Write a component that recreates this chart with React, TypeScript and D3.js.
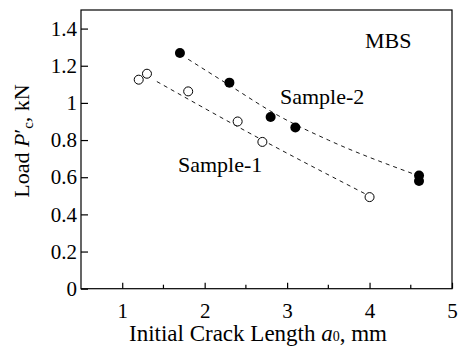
import { useEffect, useRef } from "react"
import * as d3 from "d3"

// crack length (mm) vs load (kN)
const sample1X = [1.2, 1.3, 1.8, 2.4, 2.7, 4.0]
const sample1Y = [1.125, 1.157, 1.062, 0.9, 0.79, 0.493]
const sample2X = [1.7, 2.3, 2.8, 3.1, 4.6, 4.6]
const sample2Y = [1.269, 1.109, 0.924, 0.868, 0.609, 0.58]

// dashed trend lines
const fit1X = [1.42, 2.7, 3.95]
const fit1Y = [1.115, 0.8, 0.51]
const fit2X = [1.8, 2.3, 2.9, 3.5, 4.55]
const fit2Y = [1.235, 1.095, 0.93, 0.8, 0.615]

const xTicks = [1, 2, 3, 4, 5]
const xMinorTicks = [1.5, 2.5, 3.5, 4.5]
const yTicks = [0, 0.2, 0.4, 0.6, 0.8, 1, 1.2, 1.4]

const W = 461
const H = 346

export default function App() {
  const svgRef = useRef<SVGSVGElement>(null)

  useEffect(() => {
    if (!svgRef.current) return
    const svg = d3.select(svgRef.current)
    svg.selectAll("*").remove()

    const left = 81
    const right = 452
    const top = 10
    const bottom = 288.7

    const x = d3.scaleLinear().domain([0.5, 5]).range([left, right])
    const y = d3.scaleLinear().domain([0, 1.5]).range([bottom, top])

    const font = '"Liberation Serif", Tinos, "Times New Roman", Times, serif'

    // frame
    svg
      .append("rect")
      .attr("x", left)
      .attr("y", top)
      .attr("width", right - left)
      .attr("height", bottom - top)
      .attr("fill", "none")
      .attr("stroke", "#000")
      .attr("stroke-width", 1.2)

    // x axis, inward ticks
    const xAxis = svg
      .append("g")
      .attr("transform", `translate(0,${bottom})`)
      .call(
        d3
          .axisBottom(x)
          .tickValues(xTicks)
          .tickSizeInner(-6)
          .tickSizeOuter(0)
          .tickPadding(14)
          .tickFormat(d3.format("d"))
      )
    xAxis.attr("font-family", null)
    xAxis.select(".domain").remove()
    xAxis.selectAll("line").attr("stroke-width", 1.2)
    xAxis
      .selectAll("text")
      .style("font-family", font)
      .style("font-size", "21px")
      .attr("fill", "#000")

    svg
      .append("g")
      .selectAll("line")
      .data(xMinorTicks)
      .enter()
      .append("line")
      .attr("x1", (d) => x(d))
      .attr("x2", (d) => x(d))
      .attr("y1", bottom)
      .attr("y2", bottom - 4)
      .attr("stroke", "#000")
      .attr("stroke-width", 1.2)

    // y axis, inward ticks
    const yAxis = svg
      .append("g")
      .attr("transform", `translate(${left},0)`)
      .call(
        d3
          .axisLeft(y)
          .tickValues(yTicks)
          .tickSizeInner(-7)
          .tickSizeOuter(0)
          .tickPadding(4)
          .tickFormat((d) => String(d))
      )
    yAxis.attr("font-family", null)
    yAxis.select(".domain").remove()
    yAxis.selectAll("line").attr("stroke-width", 1.2)
    yAxis
      .selectAll("text")
      .style("font-family", font)
      .style("font-size", "21px")
      .attr("fill", "#000")

    // trend lines
    const line = d3
      .line<number>()
      .x((d) => x(d))
      .curve(d3.curveMonotoneX)

    svg
      .append("path")
      .attr("d", line.y((_, i) => y(fit1Y[i]))(fit1X))
      .attr("fill", "none")
      .attr("stroke", "#000")
      .attr("stroke-width", 0.9)
      .attr("stroke-dasharray", "4,4")

    svg
      .append("path")
      .attr("d", line.y((_, i) => y(fit2Y[i]))(fit2X))
      .attr("fill", "none")
      .attr("stroke", "#000")
      .attr("stroke-width", 0.9)
      .attr("stroke-dasharray", "4,4")

    // points
    svg
      .append("g")
      .selectAll("circle")
      .data(sample1X)
      .enter()
      .append("circle")
      .attr("cx", (d) => x(d))
      .attr("cy", (_, i) => y(sample1Y[i]))
      .attr("r", 4.5)
      .attr("fill", "#fff")
      .attr("stroke", "#000")
      .attr("stroke-width", 1)

    svg
      .append("g")
      .selectAll("circle")
      .data(sample2X)
      .enter()
      .append("circle")
      .attr("cx", (d) => x(d))
      .attr("cy", (_, i) => y(sample2Y[i]))
      .attr("r", 5)
      .attr("fill", "#000")

    // annotations
    const label = (tx: number, ty: number, s: string) =>
      svg
        .append("text")
        .attr("x", tx)
        .attr("y", ty)
        .style("font-family", font)
        .style("font-size", "22px")
        .attr("fill", "#000")
        .text(s)

    label(365, 48, "MBS")
    label(280, 104, "Sample-2")
    label(178, 172, "Sample-1")

    // axis titles
    const xt = svg
      .append("text")
      .attr("x", 258)
      .attr("y", 341)
      .attr("text-anchor", "middle")
      .style("font-family", font)
      .style("font-size", "23px")
      .attr("fill", "#000")
    xt.append("tspan").text("Initial Crack Length ")
    xt.append("tspan").style("font-style", "italic").text("a")
    xt.append("tspan").style("font-size", "14px").text("0")
    xt.append("tspan").text(", mm")

    const yt = svg
      .append("text")
      .attr("transform", `translate(29,141) rotate(-90)`)
      .attr("text-anchor", "middle")
      .style("font-family", font)
      .style("font-size", "22px")
      .attr("fill", "#000")
    yt.append("tspan").text("Load ")
    yt.append("tspan").style("font-style", "italic").text("P")
    yt.append("tspan").text("′")
    yt.append("tspan").style("font-size", "15px").attr("dy", 4).text("c")
    yt.append("tspan").attr("dy", -4).text(", kN")
  }, [])

  return (
    <svg
      ref={svgRef}
      width={W}
      height={H}
      style={{ position: "absolute", left: 0, top: 0, background: "#fff" }}
    />
  )
}
